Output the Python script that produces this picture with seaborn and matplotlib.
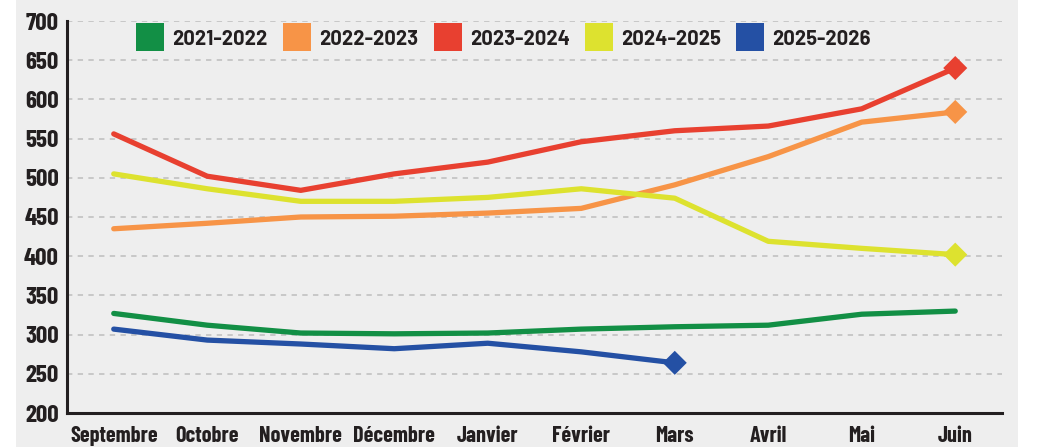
import numpy as np
import pandas as pd
import matplotlib
matplotlib.use('Agg')
import matplotlib.pyplot as plt
import seaborn as sns
from matplotlib.patches import Rectangle
from matplotlib.lines import Line2D

months = ["Septembre", "Octobre", "Novembre", "Décembre", "Janvier",
          "Février", "Mars", "Avril", "Mai", "Juin"]
seasons = ["2021-2022", "2022-2023", "2023-2024", "2024-2025", "2025-2026"]
v_2021_2022 = [327, 312, 302, 301, 302, 307, 310, 312, 326, 330]
v_2022_2023 = [435, 442, 450, 451, 455, 461, 491, 527, 571, 584]
v_2023_2024 = [556, 502, 484, 505, 520, 546, 560, 566, 588, 640]
v_2024_2025 = [505, 486, 470, 470, 475, 486, 474, 419, 410, 402]
v_2025_2026 = [307, 293, 288, 282, 289, 278, 264]
colors = ["#128f45", "#f79447", "#e84030", "#dde22f", "#2450a4"]
marker_series = ["2022-2023", "2023-2024", "2024-2025", "2025-2026"]

series = [v_2021_2022, v_2022_2023, v_2023_2024, v_2024_2025, v_2025_2026]
rows = []
for s, vals in zip(seasons, series):
    for i, v in enumerate(vals):
        rows.append({"season": s, "idx": i, "month": months[i], "value": v})
df = pd.DataFrame(rows)
last = df.groupby("season", sort=False).tail(1)
last = last[last["season"].isin(marker_series)]

sns.set_style("white")
plt.rcParams['font.family'] = ['Barlow Condensed', 'DejaVu Sans']
plt.rcParams['font.weight'] = 'bold'

fig = plt.figure(figsize=(10.4, 4.47), dpi=100)
fig.patch.set_facecolor('white')
fig.patches.append(Rectangle((16 / 1040, 0), (1018 - 16) / 1040, 1,
                             transform=fig.transFigure, facecolor='#eeeeee',
                             edgecolor='none', zorder=-10))
ax = fig.add_axes([67 / 1040, 34 / 447, 935 / 1040, 392 / 447])
ax.set_facecolor('none')

pal = dict(zip(seasons, colors))
sns.lineplot(data=df, x="idx", y="value", hue="season", palette=pal,
             linewidth=3.8, legend=False, ax=ax, sort=False, zorder=3)
sns.scatterplot(data=last, x="idx", y="value", hue="season", palette=pal,
                marker="D", s=150, linewidth=0, legend=False, ax=ax, zorder=4)

ax.set_xlim(-0.5, 9.5)
ax.set_ylim(200, 700)
ax.set_yticks(np.arange(200, 701, 50))
ax.set_xticks(range(len(months)))
ax.set_xticklabels(months)
ax.set_xticks(np.arange(0.5, 10, 1), minor=True)
ax.tick_params(axis='x', which='major', length=0, pad=9, labelsize=16)
ax.tick_params(axis='x', which='minor', direction='in', length=8, width=2.2,
               color='#231f20')
ax.tick_params(axis='y', length=0, pad=6, labelsize=18)
for lab in ax.get_xticklabels() + ax.get_yticklabels():
    lab.set_fontweight('bold')
    lab.set_color('#231f20')

ax.yaxis.grid(True, linestyle=(0, (3.5, 3.5)), color='#bdbdbd', linewidth=1.1, zorder=0)
ax.set_axisbelow(True)
for side in ['top', 'right']:
    ax.spines[side].set_visible(False)
for side in ['left', 'bottom']:
    ax.spines[side].set_color('#231f20')
    ax.spines[side].set_linewidth(2.2)
ax.set_xlabel('')
ax.set_ylabel('')

handles = [Line2D([], [], marker='s', linestyle='none', markersize=19.5,
                  markerfacecolor=c, markeredgewidth=0) for c in colors]
leg = ax.legend(handles, seasons, ncol=5, loc='center',
                bbox_to_anchor=(0.467, 0.955), frameon=False,
                prop={'family': ['Barlow', 'DejaVu Sans'], 'weight': 'bold', 'size': 14.5},
                handlelength=1.4, handleheight=1.3, handletextpad=0.4,
                columnspacing=0.75)
for t in leg.get_texts():
    t.set_color('#231f20')

fig.savefig('out.png', dpi=100)
